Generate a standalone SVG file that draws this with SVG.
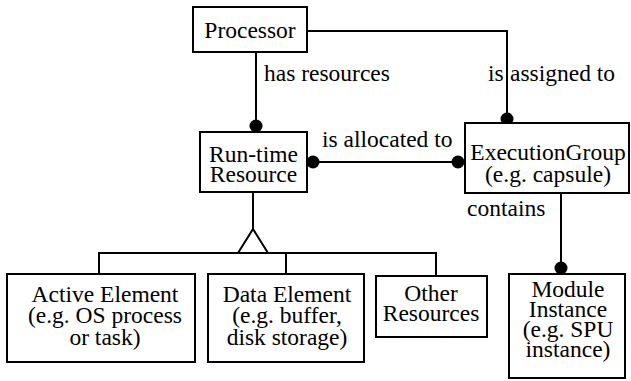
<svg xmlns="http://www.w3.org/2000/svg" width="631" height="381" viewBox="0 0 631 381">
  <style>
    .box { fill: #fff; stroke: #000; stroke-width: 2; }
    .line { fill: none; stroke: #000; stroke-width: 2; }
    .dot { fill: #000; }
    .t { font-family: 'Liberation Serif', 'DejaVu Serif', 'Times New Roman', serif; font-size: 23.5px; fill: #000; }
    .c { text-anchor: middle; }
  </style>
  <rect width="631" height="381" fill="#fff"/>

  <!-- connectors -->
  <g id="connectors">
    <!-- Processor has resources Run-time Resource -->
    <path class="line" d="M256 52 V126"/>
    <circle class="dot" cx="256" cy="126" r="6.5"/>
    <text class="t" x="264" y="81">has resources</text>

    <!-- Processor is assigned to ExecutionGroup -->
    <path class="line" d="M307 31 H507 V119"/>
    <circle class="dot" cx="507" cy="119" r="6.5"/>
    <text class="t" x="488" y="81">is</text>
    <text class="t" x="510" y="81">assigned to</text>

    <!-- Run-time Resource is allocated to ExecutionGroup -->
    <path class="line" d="M313 162 H458"/>
    <circle class="dot" cx="313" cy="162" r="6.5"/>
    <circle class="dot" cx="458" cy="162" r="6.5"/>
    <text class="t" x="322" y="147">is allocated to</text>

    <!-- ExecutionGroup contains Module Instance -->
    <path class="line" d="M561 193 V268"/>
    <circle class="dot" cx="561" cy="268" r="6.5"/>
    <text class="t" x="467" y="216">contains</text>

    <!-- generalisation of Run-time Resource -->
    <path class="line" d="M253 193 V229"/>
    <path class="line" d="M99 274 V253 H436 V276"/>
    <path class="line" d="M286 253 V274"/>
    <polygon class="box" points="253,229 238,253 268,253"/>
  </g>

  <g id="processor">
    <rect class="box" x="193" y="7" width="114" height="45"/>
    <text class="t c" x="250" y="38">Processor</text>
  </g>

  <g id="runtime-resource">
    <rect class="box" x="200" y="132" width="107" height="60"/>
    <text class="t c" x="253.5" y="162">Run-time</text>
    <text class="t c" x="253.5" y="182">Resource</text>
  </g>

  <g id="execution-group">
    <rect class="box" x="465" y="123" width="164" height="70"/>
    <text class="t c" x="548" y="160">ExecutionGroup</text>
    <text class="t c" x="548" y="182">(e.g. capsule)</text>
  </g>

  <g id="active-element">
    <rect class="box" x="7" y="274" width="188" height="88"/>
    <text class="t c" x="105" y="302">Active Element</text>
    <text class="t c" x="105" y="323">(e.g. OS process</text>
    <text class="t c" x="105" y="345">or task)</text>
  </g>

  <g id="data-element">
    <rect class="box" x="208" y="274" width="156" height="88"/>
    <text class="t c" x="287" y="302">Data Element</text>
    <text class="t c" x="287" y="323">(e.g. buffer,</text>
    <text class="t c" x="287" y="345">disk storage)</text>
  </g>

  <g id="other-resources">
    <rect class="box" x="376" y="276" width="111" height="61"/>
    <text class="t c" x="431" y="301">Other</text>
    <text class="t c" x="431" y="321">Resources</text>
  </g>

  <g id="module-instance">
    <rect class="box" x="509" y="274" width="116" height="104"/>
    <text class="t c" x="568" y="297">Module</text>
    <text class="t c" x="568" y="317">Instance</text>
    <text class="t c" x="568" y="337">(e.g. SPU</text>
    <text class="t c" x="568" y="357">instance)</text>
  </g>
</svg>
